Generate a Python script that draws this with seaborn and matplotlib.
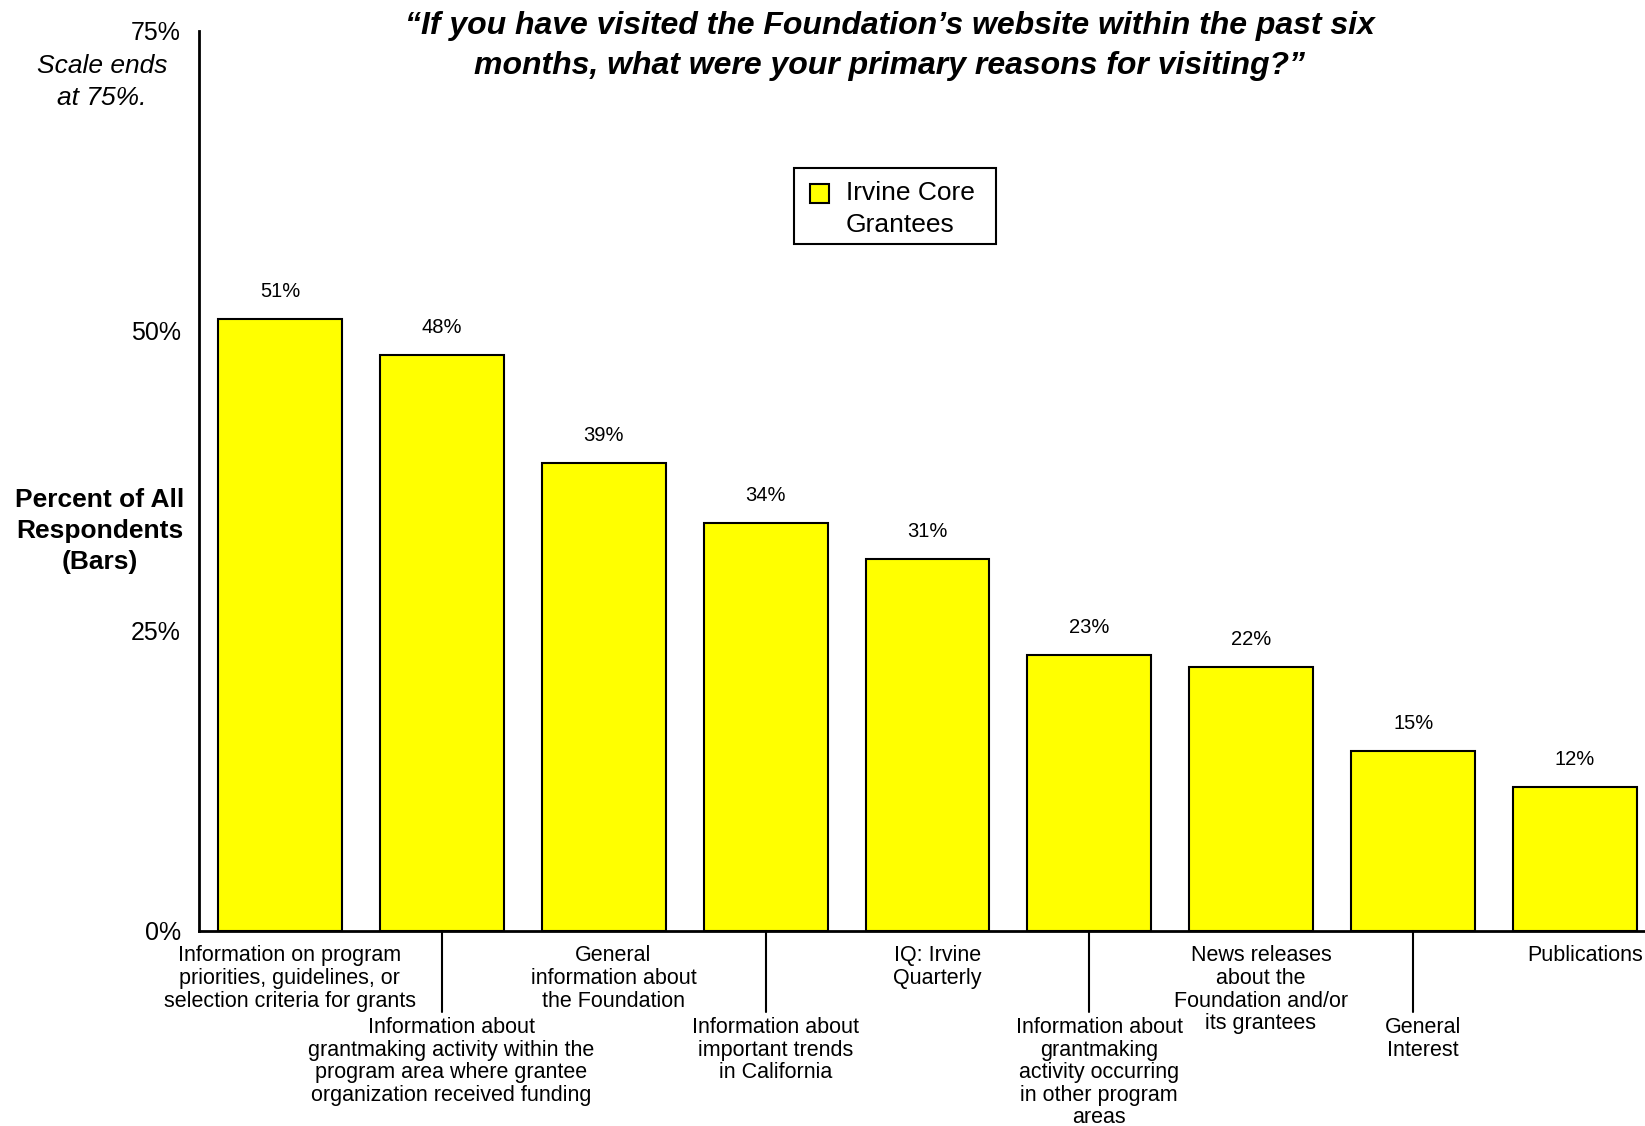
import matplotlib
matplotlib.use("Agg")
import matplotlib.pyplot as plt
import matplotlib.transforms as mtransforms
from matplotlib.patches import Rectangle
import numpy as np
import pandas as pd
import seaborn as sns

# Survey responses: reasons for visiting the Foundation's website
categories = [
    "Information on program\npriorities, guidelines, or\nselection criteria for grants",
    "Information about\ngrantmaking activity within the\nprogram area where grantee\norganization received funding",
    "General\ninformation about\nthe Foundation",
    "Information about\nimportant trends\nin California",
    "IQ: Irvine\nQuarterly",
    "Information about\ngrantmaking\nactivity occurring\nin other program\nareas",
    "News releases\nabout the\nFoundation and/or\nits grantees",
    "General\nInterest",
    "Publications",
]
values = [51, 48, 39, 34, 31, 23, 22, 15, 12]
series_name = "Irvine Core\nGrantees"
y_ticks = [0, 25, 50, 75]
y_tick_labels = ["0%", "25%", "50%", "75%"]

sns.set_theme(style="white")
plt.rcParams["font.family"] = ["Liberation Sans", "DejaVu Sans"]
plt.rcParams.update({"text.color": "black", "axes.labelcolor": "black",
                     "xtick.color": "black", "ytick.color": "black"})

W, H = 1645, 1126
fig = plt.figure(figsize=(W / 100, H / 100), dpi=100)
ax = fig.add_axes([199 / W, 1 - 931 / H, 1457 / W, 900 / H])

df = pd.DataFrame({"pos": np.arange(len(values)), "value": values})
sns.barplot(data=df, x="pos", y="value", color="#FFFF00", saturation=1,
            edgecolor="black", linewidth=1.5, width=0.765, ax=ax, native_scale=True)

ax.set_xlim(-0.5, len(values) - 0.5)
ax.set_ylim(0, 75)
ax.set_xlabel("")
ax.set_ylabel("")

for side in ("top", "right"):
    ax.spines[side].set_visible(False)
for side in ("left", "bottom"):
    ax.spines[side].set_linewidth(2)
    ax.spines[side].set_color("black")

ax.set_yticks(y_ticks)
ax.set_yticklabels(y_tick_labels, fontsize=18)
ax.set_xticks(np.arange(-0.5, len(values)))
ax.set_xticklabels([])
ax.tick_params(axis="both", direction="out", length=6, width=1.5, color="black")
ax.tick_params(axis="y", pad=7)

# value labels above bars
for i, v in enumerate(values):
    ax.annotate(f"{v}%", (i, v), xytext=(0, 13), textcoords="offset points",
                ha="center", va="bottom", fontsize=14.5)

# category labels, alternating between two rows with leader lines
trans = mtransforms.blended_transform_factory(ax.transData, fig.transFigure)
for i, label in enumerate(categories):
    x = i + 0.06
    if i % 2 == 0:
        ax.text(x, 1 - 945 / H, label, transform=trans, ha="center", va="top",
                fontsize=15.5, linespacing=1.11)
    else:
        ax.plot([i, i], [1 - 931 / H, 1 - 1012 / H], transform=trans, color="black",
                linewidth=1.5, clip_on=False)
        ax.text(x, 1 - 1017 / H, label, transform=trans, ha="center", va="top",
                fontsize=15.5, linespacing=1.1)

# title
fig.text(890 / W, 1 - 46 / H,
         "\u201cIf you have visited the Foundation\u2019s website within the past six\n"
         "months, what were your primary reasons for visiting?\u201d",
         ha="center", va="center", fontsize=23, fontweight="bold", fontstyle="italic",
         linespacing=1.4)

# axis annotations
fig.text(100 / W, 1 - 531 / H, "Percent of All\nRespondents\n(Bars)", ha="center",
         va="center", fontsize=19, fontweight="bold", linespacing=1.38)
fig.text(102 / W, 1 - 82 / H, "Scale ends\nat 75%.", ha="center", va="center",
         fontsize=19, fontstyle="italic", linespacing=1.38)

# legend box
fig.patches.append(Rectangle((794 / W, 1 - 244 / H), 202 / W, 76 / H, transform=fig.transFigure,
                             facecolor="white", edgecolor="black", linewidth=1.5))
fig.patches.append(Rectangle((810 / W, 1 - 203 / H), 19 / W, 19 / H, transform=fig.transFigure,
                             facecolor="#FFFF00", edgecolor="black", linewidth=1.5))
fig.text(846 / W, 1 - 209 / H, series_name, ha="left", va="center", fontsize=19,
         linespacing=1.38)

fig.savefig("out.png", dpi=100)
